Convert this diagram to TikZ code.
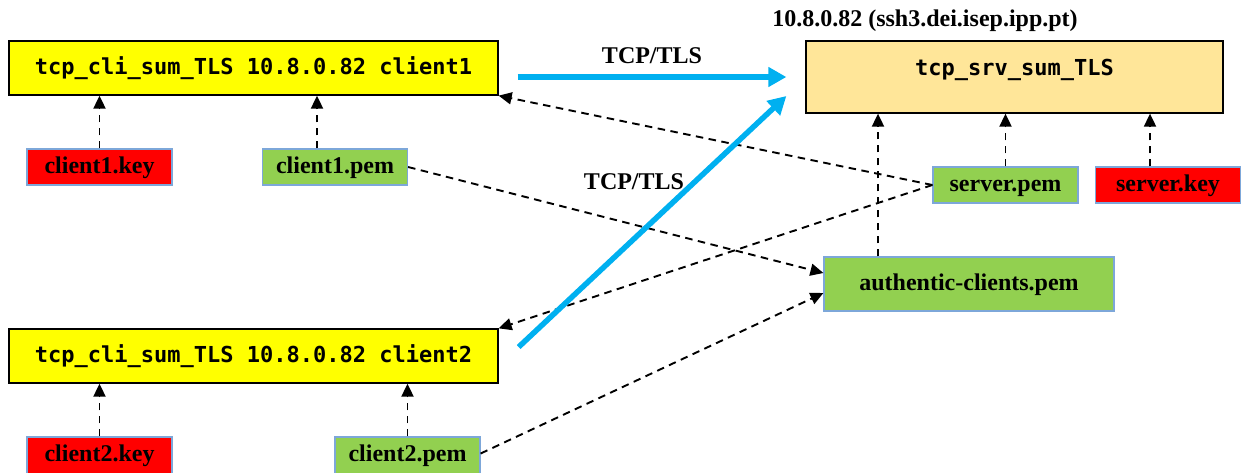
\documentclass[tikz,border=0pt]{standalone}
\usepackage{fontspec}
\setmainfont{Liberation Serif}
\newfontfamily\monofont{DejaVu Sans Mono}
\usetikzlibrary{arrows.meta}
\definecolor{cyel}{HTML}{FFFF00}
\definecolor{csrv}{HTML}{FFE699}
\definecolor{cgreen}{HTML}{92D050}
\definecolor{cred}{HTML}{FF0000}
\definecolor{cedge}{HTML}{7DA7D9}
\definecolor{cblue}{HTML}{00B0F0}
\tikzset{
  prog/.style={draw=black, line width=1.3pt, fill=cyel, inner sep=0pt,
    font=\monofont\bfseries\fontsize{22}{26}\selectfont},
  file/.style={draw=cedge, line width=1.2pt, inner sep=0pt,
    minimum width=145pt, minimum height=36pt,
    text height=16pt, text depth=4pt,
    font=\bfseries\fontsize{24}{28}\selectfont},
  keyfile/.style={file, fill=cred},
  pemfile/.style={file, fill=cgreen},
  lbl/.style={inner sep=0pt, font=\bfseries\fontsize{24}{28}\selectfont},
  dep/.style={draw=black, line width=1.9pt, dash pattern=on 7.5pt off 5.5pt,
    -{Triangle[length=13pt,width=12pt]}},
  tls/.style={draw=cblue, line width=5.5pt,
    -{Triangle[length=18pt,width=19pt]}}
}
\begin{document}
\begin{tikzpicture}[x=1pt,y=-1pt]
\useasboundingbox (0,0) rectangle (1241,472);
% programs
\node[prog, minimum width=489pt, minimum height=54pt] (c1) at (253.5,68) {tcp\_cli\_sum\_TLS 10.8.0.82 client1};
\node[prog, minimum width=489pt, minimum height=54pt] (c2) at (253.5,356) {tcp\_cli\_sum\_TLS 10.8.0.82 client2};
\node[prog, fill=csrv, minimum width=417pt, minimum height=72pt,
      text height=16pt, text depth=20pt] (srv) at (1014.5,77) {tcp\_srv\_sum\_TLS};
\node[lbl] (srvlbl) at (925,21) {10.8.0.82 (ssh3.dei.isep.ipp.pt)};
% files
\node[keyfile] (c1key) at (99.5,167) {client1.key};
\node[pemfile] (c1pem) at (335,167) {client1.pem};
\node[keyfile, minimum height=37pt] (c2key) at (99.5,455.5) {client2.key};
\node[pemfile, minimum height=37pt] (c2pem) at (407.5,455.5) {client2.pem};
\node[pemfile] (spem) at (1005.5,185) {server.pem};
\node[keyfile] (skey) at (1168,185) {server.key};
\node[pemfile, minimum width=290pt, minimum height=54pt] (auth) at (969,284) {authentic-clients.pem};
% labels
\node[lbl] (tls1) at (652,56) {TCP/TLS};
\node[lbl] (tls2) at (634,182) {TCP/TLS};
% dependency arrows
\draw[dep] (c1key.north) -- (c1key.north |- c1.south);
\draw[dep] ([xshift=-18pt]c1pem.north) -- ([xshift=-18pt]c1pem.north |- c1.south);
\draw[dep] (c2key.north) -- (c2key.north |- c2.south);
\draw[dep] (c2pem.north) -- (c2pem.north |- c2.south);
\draw[dep] (spem.north) -- (spem.north |- srv.south);
\draw[dep] ([xshift=-18pt]skey.north) -- ([xshift=-18pt]skey.north |- srv.south);
\draw[dep] ([xshift=-91pt]auth.north) -- ([xshift=-91pt]auth.north |- srv.south);
\draw[dep] (spem.west) -- (c1.south east);
\draw[dep] (spem.west) -- (c2.north east);
\draw[dep] (c1pem.east) -- ([yshift=11pt]auth.west);
\draw[dep] ([yshift=2pt]c2pem.east) -- ([yshift=-9pt]auth.west);
% TLS connections
\draw[tls] ([xshift=19pt]c1.east |- srv.west) -- ([xshift=-19pt]srv.west);
\draw[tls] ([xshift=20pt,yshift=9pt]c2.east) -- ([xshift=-19pt,yshift=-19pt]srv.west);
\end{tikzpicture}
\end{document}
